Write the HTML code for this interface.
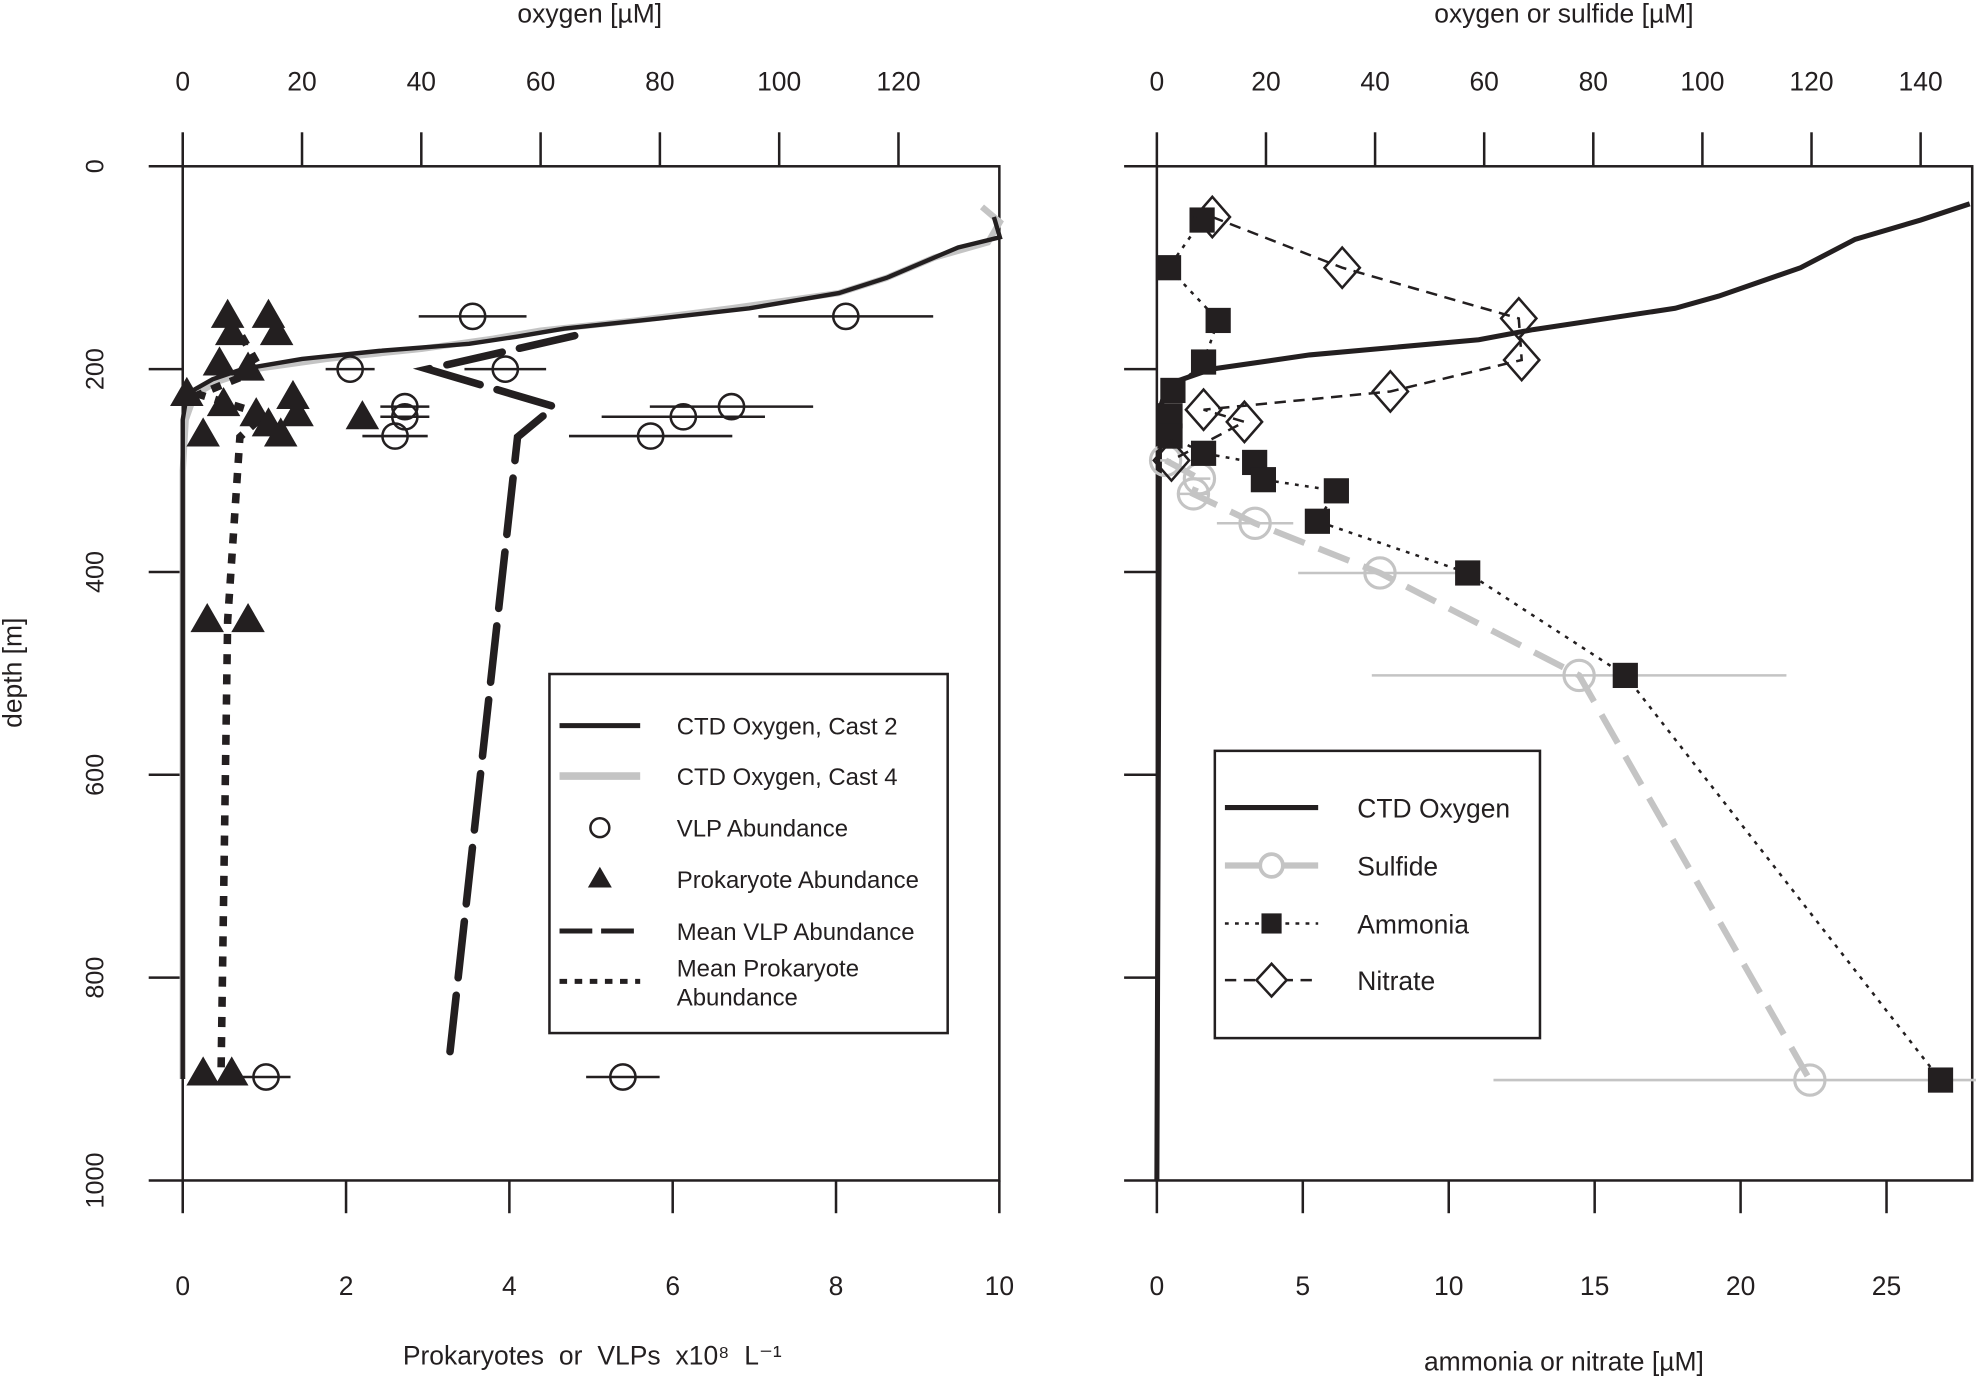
<!DOCTYPE html>
<html><head><meta charset="utf-8"><style>
html,body{margin:0;padding:0;background:#fff}
svg{display:block}
text{font-family:"Liberation Sans",Arial,sans-serif;fill:#231f20}
</style></head><body>
<svg id="chart" width="1976" height="1377" viewBox="0 0 1568 1093" preserveAspectRatio="none" xmlns="http://www.w3.org/2000/svg">
<g id="left"></g>
<g id="right"></g>
</svg>
<script>
// ---- data ----
const depthTicks = [0,200,400,600,800,1000];
const leftBottomTicks = [0,2,4,6,8,10];
const leftTopTicks = [0,20,40,60,80,100,120];
const rightTopTicks = [0,20,40,60,80,100,120,140];
const rightBottomTicks = [0,5,10,15,20,25];

const vlpDepth = [148,148,200,200,237,247,266,237,247,266,898,898];
const vlpValue = [3.55,8.12,2.05,3.95,2.72,2.72,2.6,6.72,6.13,5.73,1.02,5.39];
const vlpErr   = [0.66,1.07,0.3,0.5,0.3,0.3,0.4,1.0,1.0,1.0,0.3,0.45];

const proDepth = [148,148,165,165,195,200,225,228,235,245,245,248,255,265,265,448,448,895,895];
const proValue = [0.55,1.05,0.6,1.15,0.45,0.8,0.05,1.35,0.5,0.9,1.4,2.2,1.05,0.25,1.2,0.3,0.8,0.25,0.6];

const meanVlpDepth = [167,200,237,267,890];
const meanVlpValue = [4.8,3.0,4.55,4.1,3.25];
const meanProDepth = [150,200,225,245,267,448,890];
const meanProValue = [0.6,0.95,0.2,1.0,0.7,0.55,0.47];

const ctd2Depth = [50,70,80,95,110,125,140,150,160,168,175,182,190,200,210,220,232,250,300,900];
const ctd2Oxy   = [136,137,130,124,118,110,95,80,64,56,48,33,20,10,5,2,0.5,0,0,0];
const ctd4Depth = [40,55,75,90,110,125,140,152,162,170,180,190,200,212,225,250,300,900];
const ctd4Oxy   = [134,137,135,126,118,110,92,76,60,52,40,24,12,6,2,0.5,0,0];

const oxyRDepth = [37,53,72,100,128,140,161,171,186,200,215,240,1000];
const oxyRValue = [149,140,128,118,103,95,69,59,28,10,2,0.5,0];

const ammDepth = [53,100,152,193,221,246,266,283,292,309,320,350,401,502,901];
const ammValue = [1.55,0.4,2.1,1.6,0.55,0.45,0.45,1.6,3.35,3.65,6.15,5.5,10.65,16.05,26.85];
const nitDepth = [50,100,150,191,222,240,252,290];
const nitValue = [1.9,6.35,12.4,12.5,8.0,1.6,3.0,0.5];
const sulDepth = [290,308,323,352,401,502,901];
const sulValue = [1.6,7.8,6.7,18.0,40.9,77.4,119.7];
const sulErr   = [1,2,3,7,15,38,58];

// ---- scales ----
const Y = d => 132 + d*0.805;
const LX = v => 145 + v*64.8;
const LO = o => 145 + o*4.733;
const RO = o => 918 + o*4.329;
const RX = v => 918 + v*23.16;

const NS='http://www.w3.org/2000/svg';
function el(parent, tag, attrs, text){
  const e=document.createElementNS(NS,tag);
  for(const k in attrs) e.setAttribute(k,attrs[k]);
  if(text!==undefined) e.textContent=text;
  parent.appendChild(e); return e;
}
const L=document.getElementById('left'), R=document.getElementById('right');
const ink='#231f20';

function frame(g,x0,x1,name){
  const r=el(g,'rect',{x:x0,y:132,width:x1-x0,height:805,fill:'none',stroke:ink,'stroke-width':2});
  
  
}
frame(L,145,793,'left-plot-frame');
frame(R,918,1565,'right-plot-frame');

depthTicks.forEach(d=>{
  el(L,'line',{x1:118,x2:145,y1:Y(d),y2:Y(d),stroke:ink,'stroke-width':2});
  const t=el(L,'text',{x:82,y:Y(d),'font-size':20,'text-anchor':'middle',transform:`rotate(-90 82 ${Y(d)})`},String(d));
  
  
  el(R,'line',{x1:892,x2:918,y1:Y(d),y2:Y(d),stroke:ink,'stroke-width':2});
});
const yt=el(L,'text',{x:17,y:534,'font-size':21,'text-anchor':'middle',transform:'rotate(-90 17 534)'},'depth [m]');



function xTicks(g,ticks,f,top){
  ticks.forEach(v=>{
    const x=f(v);
    if(top){ el(g,'line',{x1:x,x2:x,y1:105,y2:132,stroke:ink,'stroke-width':2});
      const t=el(g,'text',{x:x,y:72,'font-size':21,'text-anchor':'middle'},String(v));
      
      
    } else { el(g,'line',{x1:x,x2:x,y1:937,y2:963,stroke:ink,'stroke-width':2});
      const t=el(g,'text',{x:x,y:1028,'font-size':21,'text-anchor':'middle'},String(v));
      
      
    }
  });
}
xTicks(L,leftBottomTicks,LX,false);
xTicks(L,leftTopTicks,LO,true);
xTicks(R,rightTopTicks,RO,true);
xTicks(R,rightBottomTicks,RX,false);

let t;
t=el(L,'text',{x:468,y:18,'font-size':21,'text-anchor':'middle'},'oxygen [µM]');


t=el(R,'text',{x:1241,y:18,'font-size':21,'text-anchor':'middle'},'oxygen or sulfide [µM]');


t=el(L,'text',{x:470,y:1083,'font-size':21,'text-anchor':'middle','word-spacing':6},'Prokaryotes or VLPs x10⁸ L⁻¹');


t=el(R,'text',{x:1241,y:1088,'font-size':21,'text-anchor':'middle'},'ammonia or nitrate [µM]');



function poly(g,xs,ds,fx,attrs,name){
  const pts=xs.map((v,i)=>fx(v)+','+Y(ds[i])).join(' ');
  const p=el(g,'polyline',Object.assign({points:pts,fill:'none'},attrs));
  
  
  return p;
}
poly(L,ctd4Oxy,ctd4Depth,LO,{stroke:'#c4c4c4','stroke-width':5},'ctd-oxygen-cast4-line');
poly(L,ctd2Oxy,ctd2Depth,LO,{stroke:ink,'stroke-width':3.5},'ctd-oxygen-cast2-line');
poly(L,meanVlpValue,meanVlpDepth,LX,{stroke:ink,'stroke-width':6,'stroke-dasharray':'45 14','stroke-linecap':'round'},'mean-vlp-line');
poly(L,meanProValue,meanProDepth,LX,{stroke:ink,'stroke-width':6,'stroke-dasharray':'8 8'},'mean-prokaryote-line');

vlpValue.forEach((v,i)=>{
  const y=Y(vlpDepth[i]);
  el(L,'line',{x1:LX(v-vlpErr[i]),x2:LX(v+vlpErr[i]),y1:y,y2:y,stroke:ink,'stroke-width':2});
  const c=el(L,'circle',{cx:LX(v),cy:y,r:10,fill:'none',stroke:ink,'stroke-width':2});
  
  
});
function tri(g,x,y,s){return el(g,'polygon',{points:`${x},${y-s} ${x-s*0.95},${y+s*0.65} ${x+s*0.95},${y+s*0.65}`,fill:ink});}
proValue.forEach((v,i)=>{
  const p=tri(L,LX(v),Y(proDepth[i]),14);
  
  
});

const lg=el(L,'g',{});


el(lg,'rect',{x:436,y:535,width:316,height:285,fill:'#fff',stroke:ink,'stroke-width':2});
const lRows=[576,616,657,698,739];
const lLabels=['CTD Oxygen, Cast 2','CTD Oxygen, Cast 4','VLP Abundance','Prokaryote Abundance','Mean VLP Abundance'];
el(lg,'line',{x1:444,x2:508,y1:576,y2:576,stroke:ink,'stroke-width':4});
el(lg,'line',{x1:444,x2:508,y1:616,y2:616,stroke:'#c4c4c4','stroke-width':6});
el(lg,'circle',{cx:476,cy:657,r:7.5,fill:'none',stroke:ink,'stroke-width':2});
tri(lg,476,698,10);
el(lg,'line',{x1:444,x2:508,y1:739,y2:739,stroke:ink,'stroke-width':4,'stroke-dasharray':'26 7'});
el(lg,'line',{x1:444,x2:508,y1:779,y2:779,stroke:ink,'stroke-width':4,'stroke-dasharray':'6 6'});
lLabels.forEach((s,i)=>el(lg,'text',{x:537,y:lRows[i]+7,'font-size':19},s));
el(lg,'text',{x:537,y:775,'font-size':19},'Mean Prokaryote');
el(lg,'text',{x:537,y:798,'font-size':19},'Abundance');

poly(R,oxyRValue,oxyRDepth,RO,{stroke:ink,'stroke-width':4},'ctd-oxygen-line');
sulValue.forEach((v,i)=>{
  const y=Y(sulDepth[i]);
  el(R,'line',{x1:RO(v-sulErr[i]),x2:RO(v+sulErr[i]),y1:y,y2:y,stroke:'#c4c4c4','stroke-width':2});
});
poly(R,sulValue,sulDepth,RO,{stroke:'#c4c4c4','stroke-width':5,'stroke-dasharray':'26 12'},'sulfide-line');
sulValue.forEach((v,i)=>{
  const c=el(R,'circle',{cx:RO(v),cy:Y(sulDepth[i]),r:12,fill:'none',stroke:'#c4c4c4','stroke-width':2.5});
  
  
});
poly(R,nitValue,nitDepth,RX,{stroke:ink,'stroke-width':2,'stroke-dasharray':'9 6'},'nitrate-line');
poly(R,ammValue,ammDepth,RX,{stroke:ink,'stroke-width':2,'stroke-dasharray':'3 5'},'ammonia-line');
ammValue.forEach((v,i)=>{
  const r=el(R,'rect',{x:RX(v)-10,y:Y(ammDepth[i])-10,width:20,height:20,fill:ink});
  
  
});
function dia(g,x,y){return el(g,'polygon',{points:`${x},${y-16} ${x+14},${y} ${x},${y+16} ${x-14},${y}`,fill:'none',stroke:ink,'stroke-width':2});}
nitValue.forEach((v,i)=>{
  const p=dia(R,RX(v),Y(nitDepth[i]));
  
  
});

const rg=el(R,'g',{});


el(rg,'rect',{x:964,y:596,width:258,height:228,fill:'#fff',stroke:ink,'stroke-width':2});
el(rg,'line',{x1:972,x2:1046,y1:641,y2:641,stroke:ink,'stroke-width':4});
el(rg,'line',{x1:972,x2:1046,y1:687,y2:687,stroke:'#c4c4c4','stroke-width':5});
el(rg,'circle',{cx:1009,cy:687,r:9,fill:'#fff',stroke:'#c4c4c4','stroke-width':3});
el(rg,'line',{x1:972,x2:1046,y1:733,y2:733,stroke:ink,'stroke-width':2,'stroke-dasharray':'3 5'});
el(rg,'rect',{x:1001,y:725,width:16,height:16,fill:ink});
el(rg,'line',{x1:972,x2:1046,y1:778,y2:778,stroke:ink,'stroke-width':2,'stroke-dasharray':'9 6'});
el(rg,'polygon',{points:'1009,765 1021,778 1009,791 997,778',fill:'#fff',stroke:ink,'stroke-width':2});
[['CTD Oxygen',641],['Sulfide',687],['Ammonia',733],['Nitrate',778]].forEach(a=>el(rg,'text',{x:1077,y:a[1]+8,'font-size':21},a[0]));
</script>
</body></html>
